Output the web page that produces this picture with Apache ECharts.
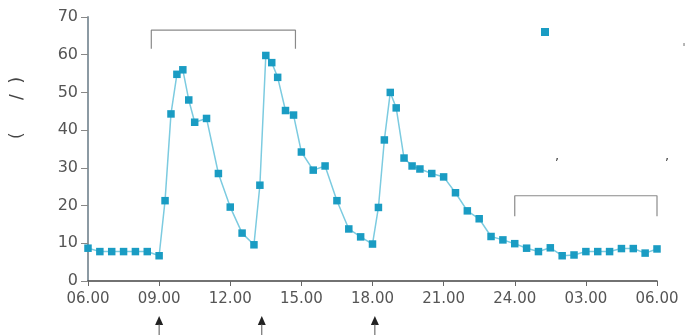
<!DOCTYPE html>
<html>
<head>
<meta charset="utf-8">
<script src="https://cdn.jsdelivr.net/npm/echarts@6/dist/echarts.min.js"></script>
<style>html,body{margin:0;padding:0;background:#fff;}#c{width:686px;height:335px;}</style>
</head>
<body>
<div id="c"></div>
<script>
// Time of day in hours (06.00 day 1 = 6, 06.00 next day = 30)
var times = [6,6.5,7,7.5,8,8.5,9,
  9.25,9.5,9.75,10,10.25,10.5,11,11.5,12,12.5,13,
  13.25,13.5,13.75,14,14.33,14.67,15,15.5,16,16.5,17,17.5,18,
  18.25,18.5,18.75,19,19.33,19.67,20,20.5,21,21.5,22,22.5,23,23.5,24,
  24.5,25,25.5,26,26.5,27,27.5,28,28.5,29,29.5,30];
var values = [8.7,7.8,7.8,7.8,7.8,7.8,6.7,
  21.3,44.3,54.8,56,48,42.1,43.1,28.5,19.6,12.7,9.6,
  25.4,59.8,57.9,54,45.2,44,34.2,29.4,30.5,21.3,13.8,11.7,9.8,
  19.5,37.4,50,45.9,32.6,30.5,29.7,28.5,27.6,23.4,18.6,16.5,11.8,10.9,9.9,
  8.7,7.8,8.8,6.7,6.9,7.8,7.8,7.8,8.6,8.6,7.4,8.5];
var xTickLabels = ['06.00','09.00','12.00','15.00','18.00','21.00','24.00','03.00','06.00'];
var yTickLabels = ['0','10','20','30','40','50','60','70'];
// brackets marking periods (hour, value)
var bracketDay = [[8.67,61.6],[8.67,66.5],[14.75,66.5],[14.75,61.6]];
var bracketNight = [[24,17.2],[24,22.6],[30,22.6],[30,17.2]];
// meal time arrows (hours)
var mealTimes = [9, 13.33, 18.1];

var chart = echarts.init(document.getElementById('c'), null, {renderer:'canvas'});
var pts = times.map(function(t,i){return [t, values[i]];});
var FONT = 'DejaVu Sans';
chart.setOption({
  animation:false,
  backgroundColor:'#fff',
  grid:{left:88, right:29, top:17, bottom:54},
  legend:{
    show:true, left:536, top:23, itemWidth:8, itemHeight:8, itemGap:0,
    data:[{name:'glucose', icon:'rect'}],
    formatter:function(){return '';},
    textStyle:{fontSize:1}
  },
  xAxis:{
    type:'value', min:6, max:30, interval:3,
    axisLine:{show:true, lineStyle:{color:'#444', width:1.5}},
    axisTick:{show:true, length:5, lineStyle:{color:'#666'}},
    splitLine:{show:false},
    axisLabel:{margin:11, color:'#555', fontSize:15, fontFamily:FONT,
      formatter:function(v){return xTickLabels[Math.round((v-6)/3)];}}
  },
  yAxis:{
    type:'value', min:0, max:70, interval:10,
    axisLine:{show:true, lineStyle:{color:'#8c9aa3', width:2}},
    axisTick:{show:true, length:7, lineStyle:{color:'#888'}},
    splitLine:{show:false},
    axisLabel:{margin:10, color:'#555', fontSize:16, fontFamily:FONT,
      formatter:function(v){return yTickLabels[Math.round(v/10)];}}
  },
  series:[
    {name:'glucose', type:'line', data:pts, symbol:'rect', symbolSize:7.5,
     lineStyle:{color:'#7ccbe0', width:1.5},
     itemStyle:{color:'#1a9cc3'}, z:3},
    {name:'day', type:'line', data:bracketDay, symbol:'none',
     lineStyle:{color:'#8a8a8a', width:1.2}, z:2, silent:true},
    {name:'night', type:'line', data:bracketNight, symbol:'none',
     lineStyle:{color:'#8a8a8a', width:1.2}, z:2, silent:true}
  ]
});

var g = [];
g.push({type:'text', x:18, y:108, rotation:Math.PI/2,
  style:{text:'(      /  )', font:'17px '+FONT, fill:'#444', align:'center', verticalAlign:'middle'}});
g.push({type:'text', x:557, y:157, style:{text:',', font:'13px '+FONT, fill:'#444', align:'center', verticalAlign:'middle'}});
g.push({type:'text', x:667, y:157, style:{text:',', font:'13px '+FONT, fill:'#444', align:'center', verticalAlign:'middle'}});
g.push({type:'text', x:684, y:48, style:{text:'\'', font:'11px '+FONT, fill:'#666', align:'center', verticalAlign:'middle'}});
mealTimes.forEach(function(t){
  var px = chart.convertToPixel({xAxisIndex:0}, t);
  g.push({type:'polygon', shape:{points:[[px,316],[px-4,325],[px+4,325]]}, style:{fill:'#222'}});
  g.push({type:'line', shape:{x1:px, y1:324, x2:px, y2:336}, style:{stroke:'#555', lineWidth:1}});
});
chart.setOption({graphic:g});
</script>
</body>
</html>
